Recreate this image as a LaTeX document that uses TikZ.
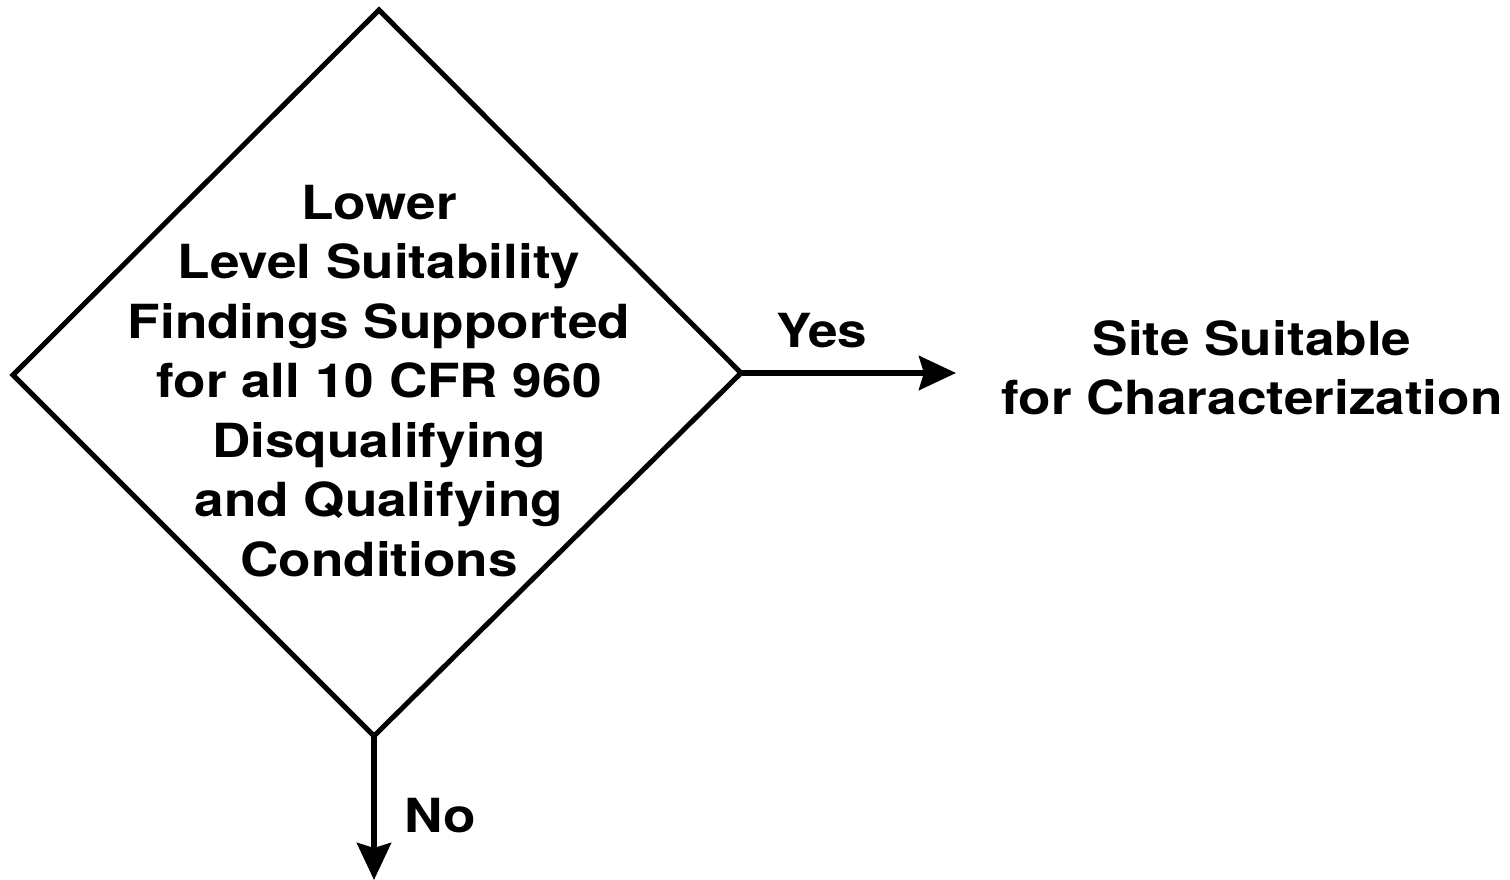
\documentclass[tikz,border=0pt]{standalone}
\usepackage{fontspec}
\setmainfont{TeX Gyre Heros}[FakeStretch=1.13]
\usetikzlibrary{arrows.meta}
\begin{document}
\begin{tikzpicture}[x=1pt,y=-1pt,
  lbl/.style={font=\fontsize{47}{59.5}\selectfont\bfseries, align=center, inner sep=0pt},
  conn/.style={line width=6pt, -{Stealth[length=37pt,width=34pt,inset=5pt]}},
  shapeline/.style={line width=5pt, line join=miter}]
\useasboundingbox (0,0) rectangle (1510,880);
\coordinate (T) at (379,10);
\coordinate (L) at (13,375);
\coordinate (B) at (374,736);
\coordinate (R) at (741,373);
\draw[shapeline] (T) -- (R) -- (B) -- (L) -- cycle;
\node[lbl] (q) at (379,381) {Lower\\Level Suitability\\Findings Supported\\for all 10 CFR 960\\Disqualifying\\and Qualifying\\Conditions};
\coordinate (yesend) at (956,373);
\coordinate (noend) at (374,880);
\draw[conn] (R) -- (yesend);
\draw[conn] (B) -- (noend);
\node[lbl] (yes) at (822,331) {Yes};
\node[lbl] (no) at (440,816) {No};
\node[lbl] (site) at (1252,368) {Site Suitable\\for Characterization};
\end{tikzpicture}
\end{document}
